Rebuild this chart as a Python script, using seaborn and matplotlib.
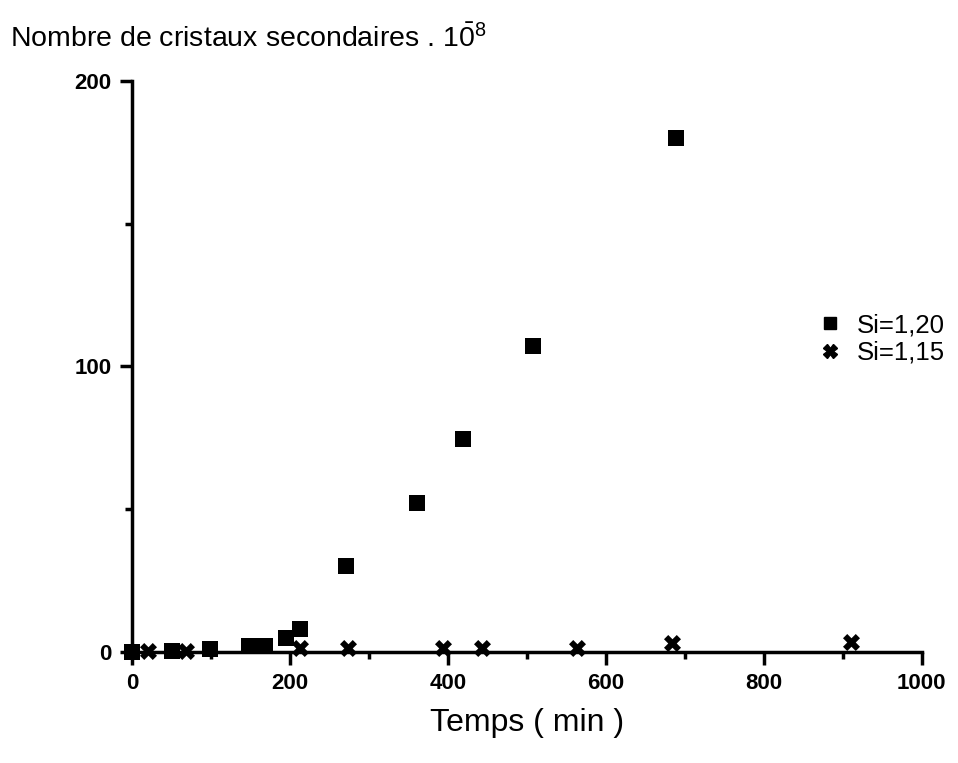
import matplotlib
matplotlib.use("Agg")
import matplotlib.pyplot as plt
import seaborn as sns
import pandas as pd
from matplotlib.ticker import MultipleLocator
from matplotlib.lines import Line2D

# Data (time in min, number of secondary crystals x 1e-8)
t_120 = [0, 50, 98, 148, 168, 195, 213, 271, 361, 419, 508, 689]
n_120 = [0, 0.5, 1, 2, 2, 5, 8, 30, 52, 74.5, 107, 180]
t_115 = [20, 68, 213, 273, 394, 443, 563, 684, 911]
n_115 = [0.5, 0.5, 1.5, 1.5, 1.5, 1.5, 1.5, 3, 3.5]
series_labels = ["Si=1,20", "Si=1,15"]
x_ticks = [0, 200, 400, 600, 800, 1000]
y_ticks = [0, 100, 200]

df = pd.DataFrame({
    "t": t_120 + t_115,
    "n": n_120 + n_115,
    "serie": [series_labels[0]] * len(t_120) + [series_labels[1]] * len(t_115),
})

sns.set_style("ticks")
plt.rcParams["font.family"] = ["Liberation Sans", "DejaVu Sans"]
plt.rcParams["mathtext.fontset"] = "custom"
plt.rcParams["mathtext.rm"] = "Liberation Sans"
plt.rcParams["mathtext.it"] = "Liberation Sans"
plt.rcParams["text.color"] = "black"
plt.rcParams["axes.labelcolor"] = "black"
plt.rcParams["xtick.color"] = "black"
plt.rcParams["ytick.color"] = "black"

fig = plt.figure(figsize=(9.58, 7.63), dpi=100)
ax = fig.add_axes([0.138, 0.1455, 0.824, 0.7485])

sns.scatterplot(data=df[df.serie == series_labels[0]], x="t", y="n", marker="s",
                s=120, color="black", edgecolor="black", linewidth=0, ax=ax, legend=False,
                clip_on=False, zorder=3)
sns.scatterplot(data=df[df.serie == series_labels[1]], x="t", y="n", marker="X",
                s=150, color="black", edgecolor="black", linewidth=0, ax=ax, legend=False,
                clip_on=False, zorder=3)

ax.set_xlim(0, 1000)
ax.set_ylim(0, 200)
ax.set_xticks(x_ticks)
ax.set_yticks(y_ticks)
ax.xaxis.set_minor_locator(MultipleLocator(100))
ax.yaxis.set_minor_locator(MultipleLocator(50))
ax.tick_params(axis="both", which="major", length=9, width=2.5, labelsize=16, direction="out",
               color="black", labelcolor="black", pad=6)
ax.tick_params(axis="both", which="minor", length=5, width=2.5, direction="out", color="black")
for lab in ax.get_xticklabels() + ax.get_yticklabels():
    lab.set_fontweight("bold")

for side in ["top", "right"]:
    ax.spines[side].set_visible(False)
for side in ["left", "bottom"]:
    ax.spines[side].set_linewidth(2.5)
    ax.spines[side].set_color("black")

ax.set_xlabel("Temps ( min )", fontsize=23, labelpad=10, color="black")
ax.set_ylabel("")

fig.text(0.01, 0.950, r"Nombre de cristaux secondaires . 1$\bar{0}^{8}$", fontsize=20.5,
         ha="left", va="center", color="black")

handles = [
    Line2D([], [], marker="s", color="black", linestyle="none", markersize=9),
    Line2D([], [], marker="X", color="black", linestyle="none", markersize=10),
]
leg = ax.legend(handles, series_labels, loc="center left", bbox_to_anchor=(0.835, 0.548),
                frameon=False, fontsize=18.5, handletextpad=0.45, labelspacing=0.15,
                handlelength=1.2)
for t in leg.get_texts():
    t.set_color("black")

fig.savefig("out.png", dpi=100)
